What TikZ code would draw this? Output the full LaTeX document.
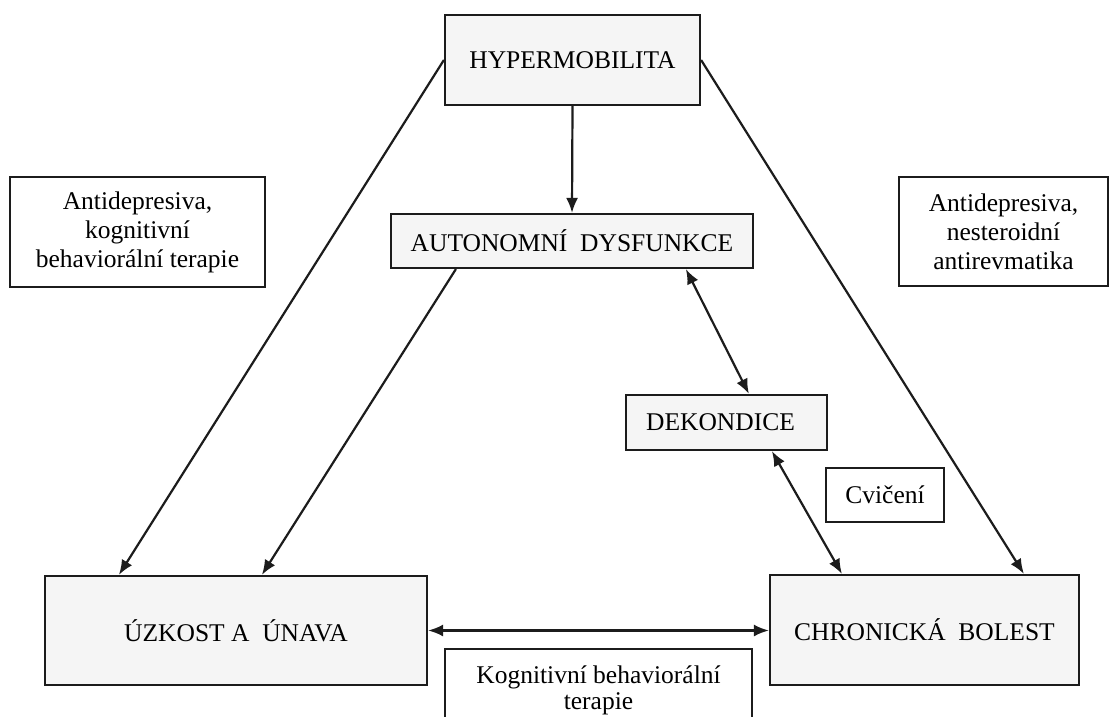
\documentclass[tikz,border=0pt]{standalone}
\usepackage{fontspec}
\setmainfont{Liberation Serif}
\usetikzlibrary{arrows.meta}
\definecolor{ink}{RGB}{28,28,28}
\definecolor{boxfill}{RGB}{245,245,245}
\begin{document}
\begin{tikzpicture}[x=1pt,y=-1pt,
  mainbox/.style={draw=ink,line width=2.2pt,fill=boxfill,inner sep=0pt,align=center,
    font=\fontsize{25.5}{29}\selectfont},
  notebox/.style={draw=ink,line width=2.2pt,fill=white,inner sep=0pt,align=center,
    font=\fontsize{25.5}{29}\selectfont},
  conn/.style={draw=ink,line width=2.2pt,-{Latex[length=15pt,width=12pt]}},
  dconn/.style={draw=ink,line width=2.2pt,{Latex[length=15pt,width=12pt]}-{Latex[length=15pt,width=12pt]}}]
\useasboundingbox (0,0) rectangle (1109,717);
\clip (0,0) rectangle (1109,717);
\fill[white] (0,0) rectangle (1109,717);

\node[mainbox,minimum width=255pt,minimum height=90pt] (hyp) at (572.5,60) {HYPERMOBILITA};
\node[mainbox,minimum width=362pt,minimum height=54pt] (aut) at (572,241) {AUTONOMNÍ\ \ DYSFUNKCE};
\node[mainbox,minimum width=201pt,minimum height=55pt] (dek) at (726.5,422.5) {DEKONDICE\hspace{12pt}};
\node[notebox,minimum width=118pt,minimum height=54pt] (cvi) at (885,495) {Cvičení};
\node[mainbox,minimum width=382pt,minimum height=109pt] (uzk) at (236,630.5) {ÚZKOST A\ \ ÚNAVA};
\node[mainbox,minimum width=309pt,minimum height=110pt] (chr) at (924.5,630) {CHRONICKÁ\ \ BOLEST};
\node[notebox,minimum width=307pt,minimum height=82pt] (kbt) at (598.5,690) {Kognitivní behaviorální\\[-3pt]terapie};
\node[notebox,minimum width=255pt,minimum height=110pt] (ltx) at (137.5,232) {Antidepresiva,\\kognitivní\\behaviorální terapie};
\node[notebox,minimum width=209pt,minimum height=109pt] (rtx) at (1003.5,231.5) {Antidepresiva,\\nesteroidní\\antirevmatika};

\draw[conn] (hyp.west) -- ([xshift=75pt]uzk.north west);
\draw[conn] (hyp.east) -- ([xshift=255pt]chr.north west);
\draw[conn] (hyp.south) -- (aut.north);
\draw[conn] ([xshift=66pt]aut.south west) -- ([xshift=218pt]uzk.north west);
\draw[dconn] ([xshift=296pt]aut.south west) -- ([xshift=124pt]dek.north west);
\draw[dconn] ([xshift=147pt]dek.south west) -- ([xshift=73pt]chr.north west);
\draw[dconn] (uzk.east) -- (uzk.east -| chr.west);
\end{tikzpicture}
\end{document}
